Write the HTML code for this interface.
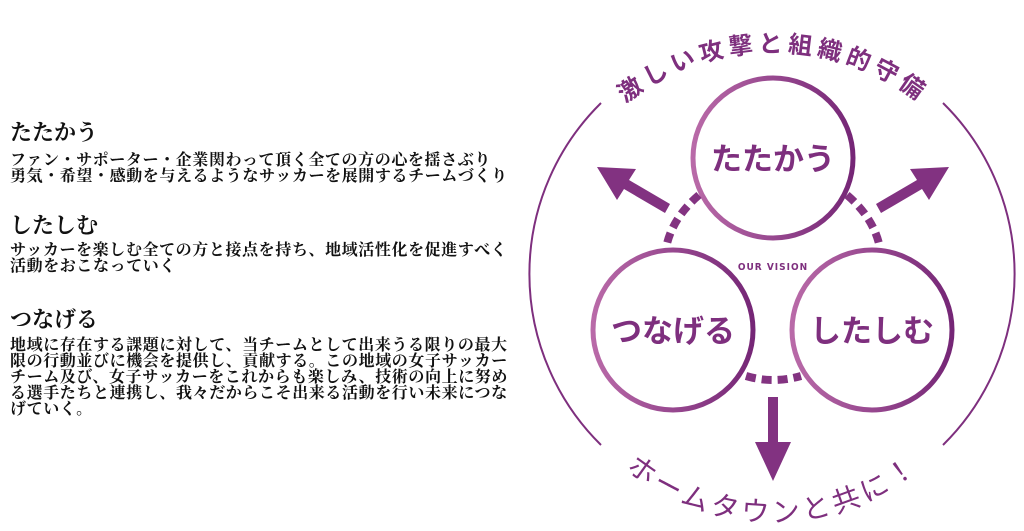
<!DOCTYPE html>
<html><head><meta charset="utf-8"><style>
body{margin:0;width:1024px;height:531px;background:#fff;position:relative;overflow:hidden;font-family:"Liberation Serif","Noto Serif CJK SC",serif;color:#111}
h2{position:absolute;left:10px;margin:0;font-size:22px;font-weight:bold;line-height:24px}
p{position:absolute;left:10px;margin:0;font-size:16px;line-height:16px;letter-spacing:0.6px;font-weight:bold;width:520px}
svg{position:absolute;left:0;top:0}
</style></head><body>
<h2 style="top:121px">たたかう</h2>
<p style="top:153px">ファン・サポーター・企業関わって頂く全ての方の心を揺さぶり<br>勇気・希望・感動を与えるようなサッカーを展開するチームづくり</p>
<h2 style="top:214px">したしむ</h2>
<p style="top:243px">サッカーを楽しむ全ての方と接点を持ち、地域活性化を促進すべく<br>活動をおこなっていく</p>
<h2 style="top:308px">つなげる</h2>
<p style="top:338px">地域に存在する課題に対して、当チームとして出来うる限りの最大<br>限の行動並びに機会を提供し、貢献する。この地域の女子サッカー<br>チーム及び、女子サッカーをこれからも楽しみ、技術の向上に努め<br>る選手たちと連携し、我々だからこそ出来る活動を行い未来につな<br>げていく。</p>
<svg width="1024" height="531" viewBox="0 0 1024 531">
<defs>
<linearGradient id="g" x1="0" y1="0" x2="1" y2="0"><stop offset="0" stop-color="#b96aa8"/><stop offset="1" stop-color="#752676"/></linearGradient>
<path id="tp" d="M535,290 A238,238 0 0 1 1011,290"/>
<path id="bp" d="M541,290 A232,232 0 0 0 1005,290"/>
</defs>
<g fill="none" stroke="#7e2f7e" stroke-width="2">
<path d="M601,103 A240,240 0 0 0 601,445"/>
<path d="M943,103 A240,240 0 0 1 943,445"/>
</g>
<g fill="none" stroke="url(#g)" stroke-width="5">
<circle cx="773" cy="158" r="80"/>
<circle cx="673" cy="330" r="80"/>
<circle cx="872" cy="330" r="80"/>
</g>
<g fill="none" stroke="#833381" stroke-width="8" stroke-dasharray="10 6">
<path d="M699,195 Q672,218 666,248"/>
<path d="M847,195 Q874,218 880,248"/>
<path d="M746,376 Q773,384 801,376"/>
</g>
<g fill="#823281">
<path d="M670,204 L629,180 L636,169 L597,167 L617,200 L624,189 L665,213 Z"/>
<path d="M876,204 L917,180 L910,169 L949,167 L929,200 L922,189 L881,213 Z"/>
<path d="M768,397 L778,397 L778,442 L791,442 L773,481 L755,442 L768,442 Z"/>
</g>
<g font-family="'Noto Sans CJK JP',sans-serif" font-weight="bold" fill="#7e2f7e" text-anchor="middle">
<text x="773" y="170" font-size="31">たたかう</text>
<text x="673" y="342" font-size="31">つなげる</text>
<text x="872" y="342" font-size="31">したしむ</text>
<text x="773" y="270" font-size="10" font-family="'DejaVu Sans Condensed','Liberation Sans',sans-serif" letter-spacing="1">OUR VISION</text>
<text font-size="24" font-weight="bold" letter-spacing="5"><textPath href="#tp" startOffset="50%">激しい攻撃と組織的守備</textPath></text>
<text font-size="28" font-weight="normal" letter-spacing="4"><textPath href="#bp" startOffset="50%">ホームタウンと共に！</textPath></text>
</g>
</svg>
</body></html>
